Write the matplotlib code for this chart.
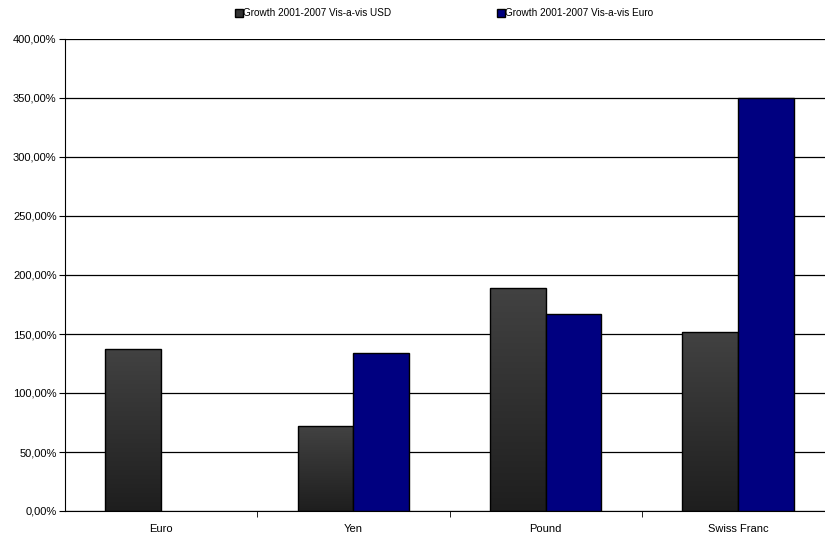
import numpy as np
import matplotlib.pyplot as plt
from matplotlib.colors import LinearSegmentedColormap
from matplotlib.ticker import FuncFormatter, MultipleLocator
from matplotlib.lines import Line2D

plt.rcParams['font.family'] = ['Liberation Sans', 'DejaVu Sans']
plt.rcParams['font.size'] = 8

# Currency growth 2001-2007, in percent
currencies = ["Euro", "Yen", "Pound", "Swiss Franc"]
growth_usd = [137.3, 72.0, 189.0, 151.5]
growth_euro = [0.0, 133.9, 167.0, 350.0]
series_labels = ["Growth 2001-2007 Vis-a-vis USD", "Growth 2001-2007 Vis-a-vis Euro"]

fig = plt.figure(figsize=(8.25, 5.39), dpi=100)
ax = fig.add_axes([65 / 825, 28 / 539, 769 / 825, 472 / 539])

x = np.arange(len(currencies))
width = 0.29

bars_usd = ax.bar(x - width / 2, growth_usd, width, color="none",
                  edgecolor="black", linewidth=1.0, zorder=3)
bars_euro = ax.bar(x + width / 2, growth_euro, width, color="#000080",
                   edgecolor="black", linewidth=1.0, zorder=3)

# empty bars should not leave a line on the baseline
for bar, val in zip(bars_euro, growth_euro):
    if val <= 0:
        bar.set_visible(False)

# vertical grey gradient inside the USD bars, lighter at the top
grey_cmap = LinearSegmentedColormap.from_list("greys", ["#1e1e1e", "#424242"])
grad = np.linspace(0, 1, 256).reshape(-1, 1)
for bar in bars_usd:
    x0, y0 = bar.get_x(), bar.get_y()
    w, h = bar.get_width(), bar.get_height()
    if h <= 0:
        continue
    img = ax.imshow(grad, extent=[x0, x0 + w, y0, y0 + h], origin="lower",
                    aspect="auto", cmap=grey_cmap, zorder=2.5)
    img.set_clip_path(bar)

ax.set_xlim(-0.5, len(currencies) - 0.5)
ax.set_ylim(0, 400)
ax.yaxis.set_major_locator(MultipleLocator(50))
ax.yaxis.set_major_formatter(FuncFormatter(lambda v, p: f"{v:.2f}%".replace(".", ",")))
ax.grid(axis="y", color="black", linewidth=0.9, zorder=1)

ax.set_xticks(x)
ax.set_xticklabels(currencies)
ax.set_xticks(np.arange(0.5, len(currencies) - 0.5, 1.0), minor=True)
ax.tick_params(axis="x", which="major", length=0, pad=9)
ax.tick_params(axis="x", which="minor", length=4, color="black")
ax.tick_params(axis="y", length=4, color="black", pad=2)

for side in ["top", "right"]:
    ax.spines[side].set_visible(False)
ax.spines["left"].set_color("black")
ax.spines["bottom"].set_color("black")

handles = [
    Line2D([], [], marker="s", linestyle="none", markersize=5.5,
           markerfacecolor="#333333", markeredgecolor="black"),
    Line2D([], [], marker="s", linestyle="none", markersize=5.5,
           markerfacecolor="#000080", markeredgecolor="black"),
]
fig.legend(handles, series_labels, loc="center", bbox_to_anchor=(0.538, 0.975),
           ncol=2, frameon=False, handletextpad=0.0, columnspacing=10.5,
           handlelength=0.9, fontsize=7.2)

fig.savefig("out.png", dpi=100)
